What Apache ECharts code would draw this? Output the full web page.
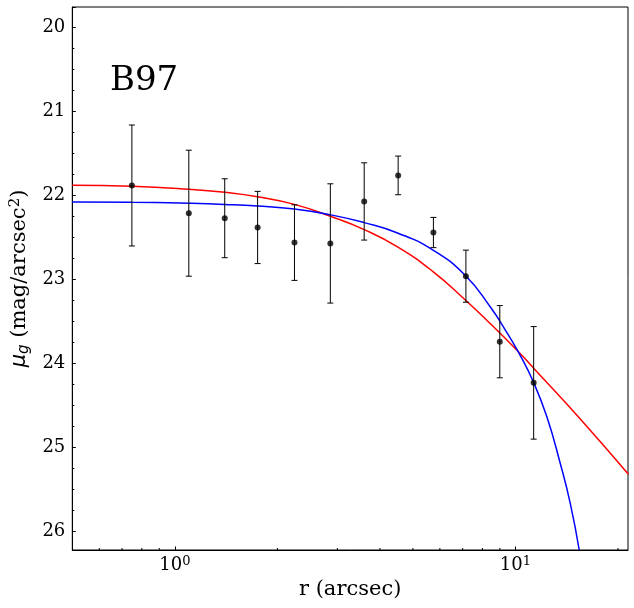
<!DOCTYPE html>
<html>
<head>
<meta charset="utf-8">
<script src="https://cdn.jsdelivr.net/npm/echarts@6/dist/echarts.min.js"></script>
<style>
html, body { margin: 0; padding: 0; background: #fff; }
#main { width: 634px; height: 608px; }
</style>
</head>
<body>
<div id="main"></div>
<script>
// measured profile of B97
var radius = [0.748, 1.099, 1.401, 1.750, 2.245, 2.861, 3.597, 4.525, 5.743, 7.153, 8.995, 11.31];
var mu = [21.88, 22.21, 22.27, 22.38, 22.56, 22.57, 22.07, 21.76, 22.44, 22.96, 23.74, 24.23];
var muErr = [0.72, 0.75, 0.47, 0.43, 0.45, 0.71, 0.46, 0.23, 0.18, 0.31, 0.43, 0.67];

// fitted models
var redR = [0.5, 0.748, 1.099, 1.401, 1.750, 2.245, 2.875, 3.597, 4.506, 5.728, 7.138, 8.265, 10.22, 11.31, 15.50, 21.46];
var redMu = [21.877, 21.889, 21.925, 21.962, 22.015, 22.105, 22.250, 22.405, 22.610, 22.905, 23.246, 23.490, 23.862, 24.055, 24.660, 25.318];
var blueR = [0.5, 0.748, 1.099, 1.401, 1.750, 2.245, 2.875, 3.597, 4.506, 5.728, 7.138, 8.45, 9.35, 10.22, 11.31, 12.38, 13.54, 14.49, 15.39];
var blueMu = [22.076, 22.080, 22.092, 22.105, 22.124, 22.160, 22.230, 22.322, 22.445, 22.650, 22.955, 23.330, 23.604, 23.870, 24.226, 24.640, 25.19, 25.667, 26.22];

var xMinorTicks = [0.6, 0.7, 0.8, 0.9, 2, 3, 4, 5, 6, 7, 8, 9, 20];

var xMin = 0.5, xMax = 21.4;
var yMin = 19.755, yMax = 26.22;

var serif = '"DejaVu Serif", serif';
var sans = '"DejaVu Sans", sans-serif';

function pairs(xs, ys) {
    var out = [];
    for (var i = 0; i < xs.length; i++) out.push([xs[i], ys[i]]);
    return out;
}

var errData = [];
for (var i = 0; i < radius.length; i++) {
    errData.push([radius[i], mu[i] - muErr[i], mu[i] + muErr[i]]);
}

var chart = echarts.init(document.getElementById('main'));

var option = {
    animation: false,
    grid: {
        left: 70, top: 7, right: 6, bottom: 58,
        show: true, borderColor: '#000', borderWidth: 1, backgroundColor: 'transparent'
    },
    graphic: [{
        type: 'text', left: 110, top: 64,
        style: { text: 'B97', font: '34px ' + serif, fill: '#000' }
    }],
    xAxis: {
        type: 'log',
        logBase: 10,
        min: xMin,
        max: xMax,
        name: 'r (arcsec)',
        nameLocation: 'middle',
        nameGap: 29,
        nameTextStyle: { fontFamily: serif, fontSize: 21, color: '#000' },
        axisLine: { lineStyle: { color: '#000', width: 1 } },
        axisTick: { inside: true, length: 3.5, lineStyle: { color: '#000' } },
        splitLine: { show: false },
        axisLabel: {
            margin: 5,
            showMinLabel: false,
            showMaxLabel: false,
            fontFamily: serif,
            fontSize: 18,
            color: '#000',
            formatter: function (v) {
                var e = Math.round(Math.log(v) / Math.LN10);
                if (Math.abs(v - Math.pow(10, e)) > 1e-6 * v) return '';
                return '10{sup|' + e + '}';
            },
            rich: {
                sup: { fontFamily: serif, fontSize: 13, verticalAlign: 'top', padding: [0, 0, 8, 0], color: '#000' }
            }
        }
    },
    yAxis: {
        type: 'value',
        inverse: true,
        min: yMin,
        max: yMax,
        name: '{i|μ}{sub|g} (mag/arcsec{sup|2})',
        nameLocation: 'middle',
        nameGap: 40,
        nameTextStyle: {
            fontFamily: serif, fontSize: 21, color: '#000',
            rich: {
                i: { fontFamily: sans, fontStyle: 'italic', fontSize: 21, color: '#000' },
                sub: { fontFamily: sans, fontStyle: 'italic', fontSize: 15, padding: [8, 0, 0, 0], color: '#000' },
                sup: { fontFamily: serif, fontSize: 15, padding: [0, 0, 9, 0], color: '#000' }
            }
        },
        axisLine: { lineStyle: { color: '#000', width: 1 } },
        axisTick: { inside: true, length: 3.5, lineStyle: { color: '#000' } },
        minorTick: { show: true, splitNumber: 4, length: 2, lineStyle: { color: '#000' } },
        splitLine: { show: false },
        axisLabel: {
            margin: 7,
            showMinLabel: false,
            showMaxLabel: false,
            fontFamily: serif,
            fontSize: 18,
            color: '#000'
        }
    },
    series: [
        {
            name: 'red model',
            type: 'line',
            data: pairs(redR, redMu),
            smooth: 0.5,
            symbol: 'none',
            lineStyle: { color: '#ff0000', width: 1.5 },
            z: 2
        },
        {
            name: 'blue model',
            type: 'line',
            data: pairs(blueR, blueMu),
            smooth: 0.5,
            symbol: 'none',
            lineStyle: { color: '#0000ff', width: 1.5 },
            z: 2
        },
        {
            name: 'errors',
            type: 'custom',
            data: errData,
            z: 3,
            renderItem: function (params, api) {
                var x = api.value(0);
                var lo = api.coord([x, api.value(1)]);
                var hi = api.coord([x, api.value(2)]);
                var w = 3;
                var st = { stroke: '#000', lineWidth: 1 };
                return {
                    type: 'group',
                    children: [
                        { type: 'line', shape: { x1: lo[0], y1: lo[1], x2: hi[0], y2: hi[1] }, style: st },
                        { type: 'line', shape: { x1: lo[0] - w, y1: lo[1], x2: lo[0] + w, y2: lo[1] }, style: st },
                        { type: 'line', shape: { x1: hi[0] - w, y1: hi[1], x2: hi[0] + w, y2: hi[1] }, style: st }
                    ]
                };
            }
        },
        {
            name: 'data',
            type: 'scatter',
            data: pairs(radius, mu),
            symbol: 'circle',
            symbolSize: 6,
            itemStyle: { color: '#000' },
            z: 4
        },
        {
            name: 'x minor ticks',
            type: 'custom',
            data: xMinorTicks.map(function (v) { return [v]; }),
            silent: true,
            z: 5,
            renderItem: function (params, api) {
                var p = api.coord([api.value(0), yMax]);
                return {
                    type: 'line',
                    shape: { x1: p[0], y1: p[1], x2: p[0], y2: p[1] - 2 },
                    style: { stroke: '#000', lineWidth: 1 }
                };
            }
        }
    ]
};

chart.setOption(option);
</script>
</body>
</html>
